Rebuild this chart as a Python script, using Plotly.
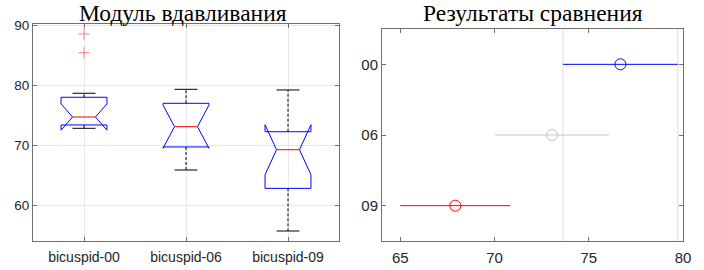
import plotly.graph_objects as go

# ---------------- data ----------------
groups = ["bicuspid-00", "bicuspid-06", "bicuspid-09"]
q1 = [73.4, 69.72, 62.8]
median = [74.73, 73.11, 69.26]
q3 = [78.03, 77.02, 72.27]
notch_half = [2.2, 3.6, 4.18]
whisk_lo = [72.84, 65.87, 55.67]
whisk_hi = [78.70, 79.36, 79.25]
outlier_group = [1, 1]
outlier_vals = [88.61, 85.48]

cmp_labels = ["00", "06", "09"]
cmp_mean = [76.68, 73.05, 67.92]
cmp_half = [3.05, 3.01, 2.92]
cmp_colors = ["#0000ff", "#c4c4c4", "#ff0000"]

W, H = 704, 270
BOX_W = 0.45

fig = go.Figure()

# ---------------- left: notched box plots ----------------
for i in range(len(groups)):
    x = i + 1
    hw = BOX_W / 2
    nw = hw / 2
    nlo = median[i] - notch_half[i]
    nhi = median[i] + notch_half[i]
    px = [x - hw, x - hw, x - nw, x - hw, x - hw, x + hw, x + hw, x + nw, x + hw, x + hw, x - hw]
    py = [q1[i], nlo, median[i], nhi, q3[i], q3[i], nhi, median[i], nlo, q1[i], q1[i]]
    fig.add_trace(go.Scatter(x=px, y=py, mode="lines", line=dict(color="#0000ff", width=1),
                             xaxis="x", yaxis="y", hoverinfo="skip", showlegend=False))
    fig.add_trace(go.Scatter(x=[x - nw, x + nw], y=[median[i], median[i]], mode="lines",
                             line=dict(color="#ff0000", width=1), xaxis="x", yaxis="y",
                             hoverinfo="skip", showlegend=False))
    fig.add_trace(go.Scatter(x=[x, x, None, x, x], y=[q3[i], whisk_hi[i], None, q1[i], whisk_lo[i]],
                             mode="lines", line=dict(color="#000000", width=1, dash="3px,2px"),
                             xaxis="x", yaxis="y", hoverinfo="skip", showlegend=False))
    fig.add_trace(go.Scatter(x=[x - nw, x + nw, None, x - nw, x + nw],
                             y=[whisk_hi[i], whisk_hi[i], None, whisk_lo[i], whisk_lo[i]],
                             mode="lines", line=dict(color="#000000", width=1),
                             xaxis="x", yaxis="y", hoverinfo="skip", showlegend=False))

fig.add_trace(go.Scatter(x=outlier_group, y=outlier_vals, mode="markers",
                         marker=dict(symbol="cross-thin-open", size=8, color="#ff8080",
                                     line=dict(color="#ff8080", width=1)),
                         xaxis="x", yaxis="y", hoverinfo="skip", showlegend=False))

# ---------------- right: comparison intervals ----------------
ypos = list(range(1, len(cmp_labels) + 1))
ref_lo = cmp_mean[0] - cmp_half[0]
ref_hi = cmp_mean[0] + cmp_half[0]
for xv in (ref_lo, ref_hi):
    fig.add_trace(go.Scatter(x=[xv, xv], y=[0.5, 3.5], mode="lines",
                             line=dict(color="#dcdcdc", width=1), xaxis="x2", yaxis="y2",
                             hoverinfo="skip", showlegend=False))
for i in range(len(cmp_labels)):
    fig.add_trace(go.Scatter(x=[cmp_mean[i] - cmp_half[i], cmp_mean[i] + cmp_half[i]],
                             y=[ypos[i], ypos[i]], mode="lines",
                             line=dict(color=cmp_colors[i], width=1), xaxis="x2", yaxis="y2",
                             hoverinfo="skip", showlegend=False))
    fig.add_trace(go.Scatter(x=[cmp_mean[i]], y=[ypos[i]], mode="markers",
                             marker=dict(symbol="circle-open", size=11, color=cmp_colors[i],
                                         line=dict(width=1, color=cmp_colors[i])),
                             xaxis="x2", yaxis="y2", hoverinfo="skip", showlegend=False))

AX = "#707070"
common = dict(showline=True, linecolor=AX, linewidth=1, mirror="ticks", ticks="inside",
              ticklen=4, tickcolor=AX, zeroline=False, automargin=False,
              tickfont=dict(family="Liberation Sans, Arial, sans-serif", color="#262626"))

fig.update_layout(
    template="none",
    width=W, height=H, margin=dict(l=0, r=0, t=0, b=0, pad=0), autosize=False,
    paper_bgcolor="white", plot_bgcolor="white",
    xaxis=dict(domain=[33 / W, 339 / W], range=[0.5, 3.5], tickvals=[1, 2, 3], ticktext=groups,
               showgrid=True, gridcolor="#e6e6e6", anchor="y", ticklabelstandoff=3,
               **{**common, "tickfont": dict(common["tickfont"], size=14)}),
    yaxis=dict(domain=[(H - 241) / H, (H - 24) / H], range=[54.0, 90.28],
               tickvals=[60, 70, 80, 90], showgrid=True, gridcolor="#e6e6e6", anchor="x",
               **{**common, "tickfont": dict(common["tickfont"], size=13.5)}),
    xaxis2=dict(domain=[382 / W, 683 / W], range=[64.03, 80.0], tickvals=[65, 70, 75, 80],
                showgrid=False, anchor="y2", ticklabelstandoff=3,
                **{**common, "tickfont": dict(common["tickfont"], size=15)}),
    yaxis2=dict(domain=[(H - 241) / H, (H - 29) / H], range=[3.5, 0.5], tickvals=ypos,
                ticktext=cmp_labels, showgrid=False, anchor="x2",
                **{**common, "tickfont": dict(common["tickfont"], size=15)}),
    annotations=[
        dict(text="Модуль вдавливания", x=183 / W, y=1 - 13 / H, xref="paper", yref="paper",
             xanchor="center", yanchor="middle", showarrow=False,
             font=dict(family="Liberation Serif, Times New Roman, serif", size=23.5, color="#000000")),
        dict(text="Результаты сравнения", x=533 / W, y=1 - 13 / H, xref="paper", yref="paper",
             xanchor="center", yanchor="middle", showarrow=False,
             font=dict(family="Liberation Serif, Times New Roman, serif", size=23.5, color="#000000")),
    ],
)

fig.write_html("out.html", config={"displayModeBar": False},
               post_script="document.body.style.margin='0';document.body.style.overflow='hidden';")
